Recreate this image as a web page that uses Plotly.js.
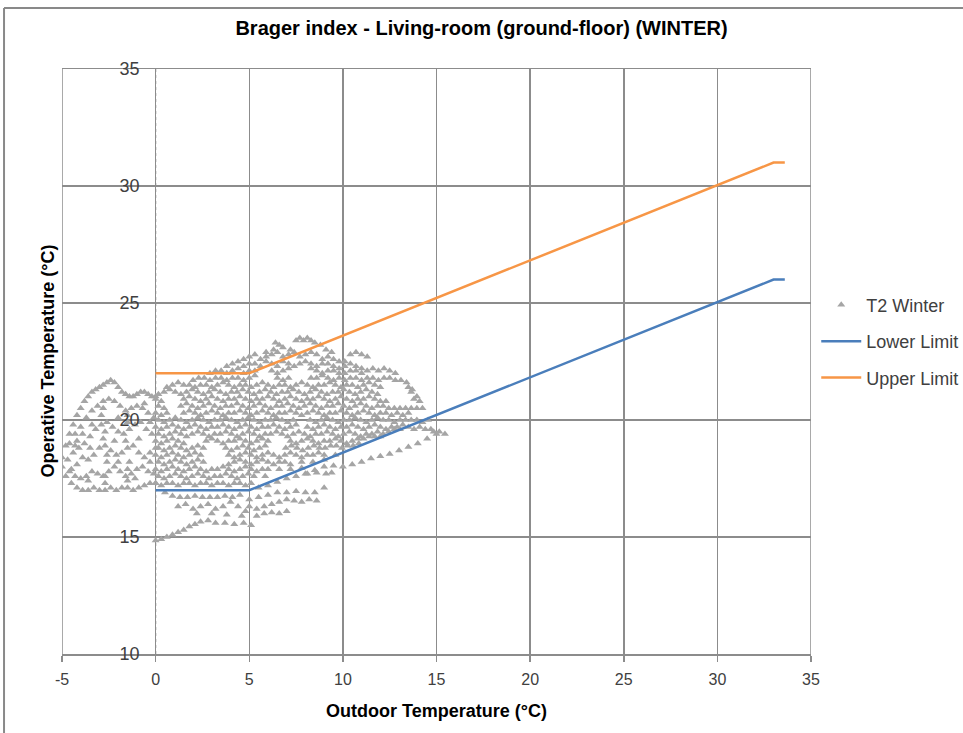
<!DOCTYPE html>
<html>
<head>
<meta charset="utf-8">
<script src="https://cdn.plot.ly/plotly-3.0.1.min.js"></script>
<style>
html,body{margin:0;padding:0;background:#fff;}
#chart{width:963px;height:733px;}
</style>
</head>
<body>
<div id="chart"></div>
<script>
// ---- Data ----
var xTicks = [-5, 0, 5, 10, 15, 20, 25, 30, 35];
var yTicks = [10, 15, 20, 25, 30, 35];

var lowerLimitX = [0, 5, 33, 33.6];
var lowerLimitY = [17, 17, 26, 26];
var upperLimitX = [0, 5, 33, 33.6];
var upperLimitY = [22, 22, 31, 31];

// T2 Winter points (outdoor temp, operative temp)
var t2Left = [
 [-5,18.4],[-4.8,18.9],[-4.6,19.4],[-4.4,19.8],[-4.2,20.2],[-4,20.5],[-3.8,20.8],[-3.6,21.0],[-3.4,21.2],[-3.2,21.3],[-3.0,21.4],[-2.8,21.5],[-2.6,21.6],[-2.4,21.7],[-2.2,21.6],[-2.0,21.4],[-1.8,21.2],[-1.6,21.1],[-1.4,21.0],[-1.2,21.0],[-1.0,21.1],[-0.8,21.2],[-0.6,21.2],[-0.4,21.1],[-0.2,21.0],[0,21.0],
 [-4.6,19.0],[-4.3,19.4],[-4.0,19.7],[-3.7,20.1],[-3.4,20.4],[-3.1,20.6],[-2.8,20.8],[-2.5,20.9],[-2.2,20.8],[-1.9,20.6],[-1.6,20.4],[-1.3,20.5],[-1.0,20.6],[-0.7,20.5],[-0.4,20.3],[-0.1,20.1],
 [-5,18.0],[-4.7,18.3],[-4.4,18.6],[-4.1,18.8],[-3.8,19.0],[-3.5,19.3],[-3.2,19.6],[-2.9,19.8],[-2.6,19.9],[-2.3,19.7],[-2.0,19.5],[-1.7,19.4],[-1.4,19.6],[-1.1,19.8],[-0.8,19.9],[-0.5,19.6],[-0.2,19.4],
 [-4.8,17.6],[-4.5,17.9],[-4.2,18.1],[-3.9,18.4],[-3.6,18.3],[-3.3,18.5],[-3.0,18.8],[-2.7,18.9],[-2.4,18.7],[-2.1,18.5],[-1.8,18.6],[-1.5,18.8],[-1.2,18.9],[-0.9,18.6],[-0.6,18.4],[-0.3,18.6],[0,18.8],
 [-4.5,17.3],[-4.2,17.1],[-3.9,17.0],[-3.6,17.0],[-3.3,17.1],[-3.0,17.0],[-2.7,17.0],[-2.4,17.1],[-2.1,17.0],[-1.8,17.1],[-1.5,17.1],[-1.2,17.0],[-0.9,17.1],[-0.6,17.2],[-0.3,17.3],[0,17.3],
 [-4.6,17.8],[-4.3,17.6],[-4.0,17.5],[-3.7,17.6],[-3.4,17.8],[-3.1,17.7],[-2.8,17.6],[-2.5,17.8],[-2.2,18.0],[-1.9,17.8],[-1.6,17.6],[-1.3,17.7],[-1.0,17.9],[-0.7,18.0],[-0.4,17.8],[-0.1,17.7],
 [-2.7,17.3],[-2.7,17.6],[-2.6,18.2],[-2.6,18.5],[-2.8,19.2],[-2.7,19.5],[-2.9,20.2],[-2.8,20.5],
 [-1.5,17.4],[-1.5,17.9],[-1.4,18.2],[-1.6,19.1],[-1.5,19.9],[-1.5,20.2],
 [-4.3,18.9],[-4.2,19.1],[-3.9,19.4],[-3.5,18.8],[-3.4,19.8],[-2.2,19.1],[-2.0,20.1],[-0.9,19.2],[-0.6,20.7],[-0.3,19.9],[-0.3,18.2],[-3.6,17.4],[-2.0,18.2],[-1.1,17.5]
];

var t2Core = [
 [6.4,23.3],[6.6,23.2],[7.5,23.4],[7.7,23.5],[7.9,23.4],[8.1,23.5],[8.3,23.4],[8.5,23.3],[5.9,22.9],[6.3,23.0],[6.8,23.1],[7.2,23.0],[8.8,23.2],[9.1,23.0],[9.4,22.9],[10.4,22.8],[10.7,22.9],[11.0,22.8],[11.3,22.7],
 [4.7,22.6],[5.0,22.7],[5.3,22.8],[5.6,22.6],[5.9,22.7],[6.2,22.8],[6.5,22.9],[6.8,22.7],[7.1,22.8],[7.4,22.9],[7.7,22.7],[8.0,22.8],[8.3,22.9],[8.6,22.8],[8.9,22.6],[9.2,22.7],[9.5,22.6],[9.8,22.5],[10.1,22.5],
 [3.8,22.3],[4.1,22.4],[4.4,22.5],[4.7,22.3],[5.0,22.4],[5.3,22.4],[5.6,22.3],[5.9,22.5],[6.2,22.4],[6.5,22.3],[6.8,22.5],[7.1,22.4],[7.4,22.3],[7.7,22.4],[8.0,22.5],[8.3,22.4],[8.6,22.3],[8.9,22.4],[9.2,22.4],[9.5,22.3],[9.8,22.2],[10.1,22.3],[10.4,22.4],[10.7,22.3],[11.0,22.2],
 [2.9,22.0],[3.2,22.1],[3.5,22.1],[3.8,22.0],[4.1,22.1],[4.4,22.2],[4.7,22.0],[5.0,22.1],[5.3,22.1],[6.2,22.1],[6.5,22.0],[6.8,22.1],[7.1,22.2],[8.3,22.2],[8.6,22.1],[8.9,22.0],[9.2,22.1],[9.5,22.1],[9.8,22.0],[10.1,22.0],[10.4,22.1],[10.7,22.1],[11.0,22.0],[11.3,22.1],[11.6,22.2],[11.9,22.1],[12.2,22.2],[12.5,22.1],[12.8,22.0],
 [2.0,21.7],[2.3,21.8],[2.6,21.8],[2.9,21.7],[3.2,21.8],[3.5,21.8],[3.8,21.7],[4.1,21.8],[4.4,21.8],[4.7,21.7],[5.0,21.8],[5.3,21.9],[6.5,21.8],[6.8,21.7],[7.1,21.8],[8.3,21.8],[8.6,21.8],[8.9,21.9],[9.2,21.8],[9.5,21.7],[9.8,21.8],[10.1,21.7],[10.4,21.8],[10.7,21.8],[11.0,21.7],[11.3,21.8],[11.6,21.8],[11.9,21.7],[12.2,21.8],[12.5,21.8],[12.8,21.7],[13.1,21.7],[13.4,21.6],
 [0.6,21.4],[0.9,21.5],[1.2,21.6],[1.5,21.5],[1.8,21.5],[2.1,21.4],[2.4,21.5],[2.7,21.5],[3.0,21.4],[3.3,21.5],[3.6,21.6],[3.9,21.5],[4.2,21.4],[4.5,21.5],[4.8,21.5],[5.1,21.4],[5.4,21.5],[5.7,21.6],[6.0,21.5],[6.3,21.4],[6.6,21.5],[6.9,21.5],[7.2,21.4],[7.5,21.5],[7.8,21.6],[8.1,21.5],[8.4,21.4],[8.7,21.5],[9.0,21.5],[9.3,21.6],[9.6,21.5],[9.9,21.4],[10.2,21.5],[10.5,21.5],[10.8,21.4],[11.1,21.5],[11.4,21.6],[11.7,21.5],[12.0,21.4],[13.5,21.4],[13.7,21.3],
 [0.15,21.1],[0.45,21.2],[0.75,21.3],[1.05,21.2],[1.35,21.1],[1.65,21.2],[1.95,21.3],[2.25,21.2],[2.55,21.1],[2.85,21.2],[3.15,21.3],[3.45,21.2],[3.75,21.1],[4.05,21.2],[4.35,21.2],[4.65,21.3],[4.95,21.2],[5.25,21.1],[5.55,21.2],[5.85,21.3],[6.15,21.2],[6.45,21.1],[6.75,21.2],[7.05,21.2],[7.35,21.3],[7.65,21.2],[7.95,21.1],[8.25,21.2],[8.55,21.3],[8.85,21.2],[9.15,21.1],[9.45,21.2],[9.75,21.2],[10.05,21.3],[10.35,21.2],[10.65,21.1],[10.95,21.2],[11.25,21.3],[11.55,21.2],[11.85,21.1],[13.65,21.2],[13.95,21.0],
 [0.0,20.9],[0.3,20.8],[1.5,20.9],[1.8,21.0],[2.1,20.9],[2.4,20.8],[2.7,20.9],[3.0,21.0],[3.3,20.9],[3.6,20.8],[3.9,20.9],[4.2,20.9],[4.5,21.0],[4.8,20.9],[5.1,20.8],[5.4,20.9],[5.7,20.9],[6.0,21.0],[6.3,20.9],[6.6,20.8],[6.9,20.9],[7.2,21.0],[7.5,20.9],[7.8,20.8],[8.1,20.9],[8.4,20.9],[8.7,21.0],[9.0,20.9],[9.3,20.8],[9.6,20.9],[9.9,21.0],[10.2,20.9],[10.5,20.8],[10.8,20.9],[11.1,20.9],[11.4,21.0],[11.7,20.9],[12.0,20.8],[12.3,20.8],[13.8,20.9],[14.1,20.8],
 [0.15,20.6],[0.45,20.5],[1.35,20.6],[1.65,20.7],[1.95,20.6],[2.25,20.5],[2.55,20.6],[2.85,20.7],[3.15,20.6],[3.45,20.5],[3.75,20.6],[4.05,20.6],[4.35,20.7],[4.65,20.6],[4.95,20.5],[5.25,20.6],[5.55,20.7],[5.85,20.6],[6.15,20.5],[6.45,20.6],[6.75,20.6],[7.05,20.7],[7.35,20.6],[7.65,20.5],[7.95,20.6],[8.25,20.7],[8.55,20.6],[8.85,20.5],[9.15,20.6],[9.45,20.6],[9.75,20.7],[10.05,20.6],[10.35,20.5],[10.65,20.6],[10.95,20.7],[11.25,20.6],[11.55,20.5],[11.85,20.6],[12.15,20.6],[12.45,20.5],[12.75,20.5],[13.05,20.5],[13.35,20.5],[13.65,20.5],[13.95,20.5],[14.25,20.5],
 [0.0,20.3],[0.3,20.2],[0.6,20.3],[1.5,20.3],[1.8,20.4],[2.1,20.3],[2.4,20.2],[2.7,20.3],[3.0,20.4],[3.3,20.3],[3.6,20.2],[3.9,20.3],[4.2,20.3],[4.5,20.4],[4.8,20.3],[5.1,20.2],[5.4,20.3],[5.7,20.4],[6.0,20.3],[6.3,20.2],[6.6,20.3],[6.9,20.3],[7.2,20.4],[7.5,20.3],[7.8,20.2],[8.1,20.3],[8.4,20.4],[8.7,20.3],[9.0,20.2],[9.3,20.3],[9.6,20.3],[9.9,20.4],[10.2,20.3],[10.5,20.2],[10.8,20.3],[11.1,20.4],[11.4,20.3],[11.7,20.2],[12.0,20.3],[12.3,20.3],[12.6,20.2],[12.9,20.3],[13.2,20.2],[13.5,20.3],
 [0.15,20.0],[0.45,19.9],[0.75,20.0],[1.05,20.1],[1.35,20.0],[1.65,19.9],[1.95,20.0],[2.25,20.1],[2.55,20.0],[2.85,19.9],[3.15,20.0],[3.45,20.0],[3.75,20.1],[4.05,20.0],[4.35,19.9],[4.65,20.0],[4.95,20.1],[5.25,20.0],[5.55,19.9],[5.85,20.0],[6.15,20.0],[6.45,20.1],[6.75,20.0],[7.05,19.9],[7.35,20.0],[8.25,20.0],[8.55,19.9],[8.85,20.0],[9.15,20.1],[9.45,20.0],[9.75,19.9],[10.05,20.0],[10.35,20.0],[10.65,20.1],[10.95,20.0],[11.25,19.9],[11.55,20.0],[11.85,20.1],[12.15,20.0],[12.45,20.0],[12.75,19.9],[13.05,20.0],[13.35,20.0],[13.65,20.0],[13.95,20.0],[14.25,19.9],[14.55,20.0],
 [0.0,19.7],[0.3,19.6],[0.6,19.7],[0.9,19.8],[1.2,19.7],[1.5,19.6],[1.8,19.7],[2.1,19.8],[2.4,19.7],[2.7,19.6],[3.0,19.7],[3.3,19.7],[3.6,19.8],[3.9,19.7],[4.2,19.6],[4.5,19.7],[4.8,19.8],[5.1,19.7],[5.4,19.6],[5.7,19.7],[6.0,19.7],[6.3,19.8],[6.6,19.7],[6.9,19.6],[7.2,19.7],[7.5,19.8],[8.1,19.7],[8.4,19.6],[8.7,19.7],[9.0,19.8],[9.3,19.7],[9.6,19.6],[9.9,19.7],[10.2,19.7],[10.5,19.8],[10.8,19.7],[11.1,19.6],[11.4,19.7],[11.7,19.8],[12.0,19.7],[12.3,19.6],[12.6,19.7],[12.9,19.7],[13.2,19.8],[13.5,19.7],[13.8,19.6],[14.1,19.7],[14.4,19.6],[14.7,19.6],
 [0.15,19.4],[0.45,19.3],[0.75,19.4],[1.05,19.5],[1.35,19.4],[1.65,19.3],[1.95,19.4],[2.25,19.5],[2.55,19.4],[2.85,19.3],[3.15,19.4],[3.45,19.4],[3.75,19.5],[4.05,19.4],[4.35,19.3],[4.65,19.4],[4.95,19.5],[5.25,19.4],[5.55,19.3],[5.85,19.4],[6.15,19.4],[6.45,19.5],[6.75,19.4],[7.05,19.3],[7.35,19.4],[7.65,19.5],[7.95,19.4],[8.25,19.3],[8.55,19.4],[8.85,19.4],[9.15,19.5],[9.45,19.4],[9.75,19.3],[10.05,19.4],[10.35,19.5],[10.65,19.4],[10.95,19.3],[11.25,19.4],[11.55,19.4],[11.85,19.5],[12.15,19.4],[12.45,19.5],[12.75,19.6],[13.05,19.6],[14.85,19.5],[15.15,19.5],[15.45,19.4],
 [0.0,19.1],[0.3,19.0],[0.6,19.1],[0.9,19.2],[1.2,19.1],[1.5,19.0],[2.7,19.1],[3.0,19.2],[3.3,19.1],[3.6,19.0],[3.9,19.1],[4.2,19.1],[4.5,19.2],[4.8,19.1],[5.1,19.0],[5.4,19.1],[5.7,19.2],[6.0,19.1],[7.2,19.1],[7.5,19.0],[7.8,19.1],[8.1,19.2],[8.4,19.1],[8.7,19.0],[9.0,19.1],[9.3,19.1],[9.6,19.2],[9.9,19.1],[10.2,19.0],[10.5,19.1],[10.8,19.2],[11.1,19.2],[11.4,19.3],[11.7,19.3],[12.0,19.3],
 [0.15,18.8],[0.45,18.7],[0.75,18.8],[1.05,18.9],[1.35,18.8],[1.65,18.7],[1.95,18.8],[2.25,18.9],[2.55,18.8],[3.75,18.8],[4.05,18.7],[4.35,18.8],[4.65,18.9],[4.95,18.8],[5.25,18.7],[5.55,18.8],[5.85,18.9],[6.95,18.8],[7.25,18.9],[7.55,18.8],[7.85,18.7],[8.15,18.8],[8.45,18.9],[8.75,18.8],[9.05,18.8],[9.35,18.9],[9.65,18.9],[9.95,18.8],[10.25,18.9],[10.55,18.9],[10.85,19.0],
 [0.0,18.5],[0.3,18.4],[0.6,18.5],[0.9,18.6],[1.2,18.5],[1.5,18.4],[1.8,18.5],[2.1,18.6],[2.4,18.5],[3.9,18.5],[4.2,18.4],[4.5,18.5],[4.8,18.6],[5.1,18.5],[5.4,18.4],[5.7,18.5],[6.0,18.6],[6.3,18.5],[6.6,18.4],[6.9,18.5],[7.2,18.6],[7.5,18.5],[7.8,18.4],[8.1,18.5],[8.4,18.5],[8.7,18.6],[9.0,18.5],[9.6,18.5],
 [0.15,18.2],[0.45,18.1],[0.75,18.2],[1.05,18.3],[1.35,18.2],[1.65,18.1],[1.95,18.2],[2.25,18.3],[2.55,18.2],[3.9,18.1],[4.2,18.2],[4.5,18.3],[4.8,18.2],[5.1,18.1],[5.4,18.2],[5.7,18.3],[6.0,18.2],[6.3,18.1],[6.6,18.2],[6.9,18.2],[7.2,18.1],[7.8,18.2],[8.4,18.2],[9.0,18.3],
 [0.0,17.9],[0.3,17.8],[0.6,17.9],[0.9,18.0],[1.2,17.9],[1.5,17.8],[1.8,17.9],[2.1,18.0],[2.4,17.9],[2.7,17.8],[3.0,17.9],[3.3,17.9],[3.6,18.0],[3.9,17.9],[4.2,17.8],[4.5,17.9],[4.8,18.0],[5.1,17.9],[5.4,17.8],[5.7,17.9],[6.0,17.9],[6.6,17.9],[7.2,17.9],[7.8,17.95],
 [0.15,17.6],[0.45,17.5],[0.75,17.6],[1.05,17.7],[1.35,17.6],[1.65,17.5],[1.95,17.6],[2.25,17.7],[2.55,17.6],[2.85,17.5],[3.15,17.6],[3.45,17.6],[3.75,17.7],[4.05,17.6],[4.35,17.5],[4.65,17.6],[4.95,17.7],[5.25,17.6],[5.85,17.6],
 [0.0,17.3],[0.3,17.2],[0.6,17.3],[0.9,17.3],[1.2,17.2],[1.5,17.3],[1.8,17.3],[2.1,17.2],[2.4,17.3],[2.7,17.3],[3.0,17.2],[3.3,17.3],[3.6,17.3],[3.9,17.2],[4.2,17.3],[4.5,17.3],[4.8,17.2],[5.1,17.3]
];

var t2Sparse = [
 [5.5,17.1],[6.0,17.2],[6.5,17.35],[7.0,17.5],[7.5,17.6],[8.0,17.7],[8.5,17.85],[9.0,18.0],[9.5,18.05],[10.0,18.0],[10.5,18.1],[11.0,18.2],[11.5,18.35],[12.0,18.45],[12.5,18.55],[13.0,18.7],[13.5,18.85],[14.0,19.0],[14.5,19.2],[15.0,19.4],
 [8.1,17.7],[8.6,17.75],[9.1,17.7],[9.4,17.75],
 [5.0,16.6],[5.5,16.7],[6.0,16.8],[6.5,16.9],[7.0,16.9],[7.5,16.95],[8.0,16.9],[8.5,16.9],[9.0,17.1],
 [5.0,16.3],[5.4,16.2],[5.8,16.3],[6.2,16.4],[6.6,16.5],[7.0,16.6],[7.4,16.55],[7.8,16.5],[8.2,16.6],[8.6,16.55],
 [5.4,15.9],[5.8,16.0],[6.2,16.05],[6.6,16.0],[7.0,16.1],
 [0.5,16.9],[0.9,16.75],[1.3,16.7],[1.7,16.7],[2.1,16.75],[2.5,16.7],[2.9,16.7],[3.3,16.7],[3.7,16.75],[4.1,16.7],[4.5,16.8],
 [1.2,16.3],[1.6,16.4],[2.0,16.2],[2.4,16.3],[2.8,16.4],[3.2,16.2],[3.6,16.3],[4.0,16.5],[4.4,16.3],[4.8,16.1],
 [2.2,16.0],[3.0,16.0],[3.8,15.95],[4.6,15.9],
 [0,14.85],[0.3,14.9],[0.6,15.0],[0.9,15.1],[1.2,15.2],[1.5,15.3],[1.8,15.45],[2.1,15.55],[2.4,15.65],[2.8,15.7],
 [3.2,15.6],[3.7,15.6],[4.2,15.55],[4.7,15.6],[5.1,15.5]
];

var t2All = t2Left.concat(t2Core, t2Sparse);
var t2X = t2All.map(function(p){return p[0];});
var t2Y = t2All.map(function(p){return p[1];});

var FONT = 'Liberation Sans, Arial, sans-serif';
var GRID = '#8c8c8c';

var traces = [
  {x: t2X, y: t2Y, type: 'scatter', mode: 'markers', name: 'T2 Winter', legendgroup: 'a',
   marker: {symbol: 'triangle-up', size: 7, color: '#a5a5a5'}, hoverinfo: 'x+y'},
  {x: lowerLimitX, y: lowerLimitY, type: 'scatter', mode: 'lines', name: 'Lower Limit', legendgroup: 'b',
   line: {color: '#4a7ebb', width: 2.5}},
  {x: upperLimitX, y: upperLimitY, type: 'scatter', mode: 'lines', name: 'Upper Limit', legendgroup: 'c',
   line: {color: '#f79646', width: 2.5}}
];

var layout = {
  width: 963, height: 733,
  margin: {l: 62, r: 152, t: 69, b: 79, autoexpand: false},
  paper_bgcolor: '#ffffff', plot_bgcolor: '#ffffff',
  font: {family: FONT, color: '#404040', size: 16},
  title: {text: '<b>Brager index - Living-room (ground-floor) (WINTER)</b>',
          x: 0.5, xref: 'container', xanchor: 'center', y: 0.962, yref: 'container', yanchor: 'middle',
          font: {family: FONT, size: 20, color: '#000000'}},
  showlegend: true,
  legend: {x: 1.007, xanchor: 'left', y: 0.628, yanchor: 'top', traceorder: 'grouped', tracegroupgap: 10,
           itemwidth: 40, font: {family: FONT, size: 18, color: '#404040'}, bgcolor: 'rgba(0,0,0,0)'},
  xaxis: {range: [-5, 35], tickmode: 'array', tickvals: xTicks, ticktext: xTicks.map(String),
          showgrid: true, gridcolor: GRID, gridwidth: 1.5, zeroline: false,
          showline: true, linecolor: GRID, linewidth: 1.5, mirror: true,
          ticks: 'outside', ticklen: 6, tickcolor: GRID, tickwidth: 1.5, ticklabelstandoff: 4,
          tickfont: {family: FONT, size: 16, color: '#404040'},
          title: {text: '<b>Outdoor Temperature (°C)</b>', standoff: 17, font: {family: FONT, size: 18, color: '#000000'}},
          fixedrange: true},
  yaxis: {range: [10, 35], tickmode: 'array', tickvals: yTicks, ticktext: yTicks.map(String),
          anchor: 'free', position: 0.125,
          showgrid: true, gridcolor: GRID, gridwidth: 1.5, zeroline: false,
          showline: false, ticks: '', ticklabelstandoff: 16,
          tickfont: {family: FONT, size: 18, color: '#404040'},
          fixedrange: true},
  annotations: [
    {text: '<b>Operative Temperature (°C)</b>', xref: 'paper', yref: 'paper', x: -0.02, y: 0.5,
     xanchor: 'center', yanchor: 'middle', textangle: -90, showarrow: false,
     font: {family: FONT, size: 18, color: '#000000'}}
  ],
  shapes: [
    {type: 'line', xref: 'x', yref: 'paper', x0: 0, x1: 0, y0: 0, y1: 1,
     line: {color: '#7f7f7f', width: 1.2, dash: 'dot'}, layer: 'below'},
    {type: 'line', xref: 'x', yref: 'paper', x0: -5, x1: -5, y0: 0, y1: 1,
     line: {color: GRID, width: 1.5}, layer: 'below'},
    {type: 'line', xref: 'x', yref: 'paper', x0: 35, x1: 35, y0: 0, y1: 1,
     line: {color: GRID, width: 1.5}, layer: 'below'},
    {type: 'line', xref: 'paper', yref: 'paper', x0: -0.0774, x1: -0.0774, y0: 1.1043, y1: -0.2,
     line: {color: '#898989', width: 2}},
    {type: 'line', xref: 'paper', yref: 'paper', x0: -0.0774, x1: 1.25, y0: 1.1043, y1: 1.1043,
     line: {color: '#898989', width: 2}}
  ]
};

Plotly.newPlot('chart', traces, layout, {displayModeBar: false, staticPlot: true});
</script>
</body>
</html>
